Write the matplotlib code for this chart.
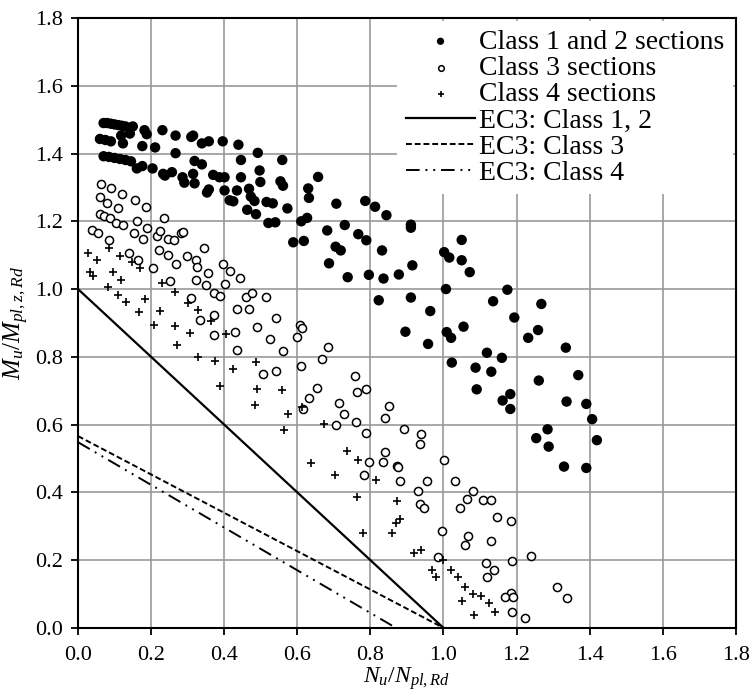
import numpy as np
import matplotlib
matplotlib.use('Agg')
import matplotlib.pyplot as plt

# Class 1 and 2 sections (filled)
c12_x = [0.070, 0.080, 0.090, 0.100, 0.110, 0.120, 0.130, 0.150, 0.182, 0.188,
         0.231, 0.267, 0.310, 0.315, 0.339, 0.358, 0.396, 0.439, 0.492, 0.559,
         0.060, 0.075, 0.090, 0.118, 0.123, 0.142, 0.176, 0.211, 0.267,
         0.070, 0.085, 0.100, 0.115, 0.130, 0.145, 0.161, 0.176, 0.204, 0.233,
         0.238, 0.257, 0.286, 0.291, 0.315, 0.319, 0.319, 0.339,
         0.353, 0.358, 0.370, 0.387, 0.401, 0.401, 0.415, 0.425, 0.435, 0.446,
         0.446, 0.468, 0.473, 0.483, 0.463, 0.487, 0.497, 0.499,
         0.516, 0.533, 0.521, 0.540, 0.554, 0.561, 0.573,
         0.589, 0.618, 0.611, 0.627, 0.630, 0.632, 0.657, 0.707, 0.682, 0.730,
         0.687, 0.705, 0.719, 0.738, 0.767, 0.789, 0.786, 0.813, 0.844, 0.832,
         0.796, 0.836, 0.878, 0.915, 0.911, 0.911,
         0.823, 0.911, 0.964, 1.007, 1.002, 1.016, 1.050, 1.050, 1.072, 1.136,
         1.175, 1.268, 1.194, 1.232, 1.259, 1.335, 1.119, 1.160, 1.088, 1.131,
         1.091, 1.261, 1.369, 1.162, 1.183, 1.183, 1.337, 1.391, 1.407, 1.285,
         1.254, 1.288, 1.420, 1.330, 1.391,
         0.896, 0.958, 1.009, 1.021, 1.055, 1.023]
c12_y = [1.490, 1.490, 1.488, 1.486, 1.484, 1.482, 1.480, 1.480, 1.469, 1.457,
         1.469, 1.453, 1.449, 1.453, 1.430, 1.436, 1.436, 1.426, 1.402, 1.381,
         1.443, 1.440, 1.436, 1.453, 1.430, 1.459, 1.422, 1.418, 1.401,
         1.392, 1.390, 1.387, 1.384, 1.381, 1.377, 1.356, 1.363, 1.356, 1.340,
         1.335, 1.345, 1.330, 1.314, 1.340, 1.312, 1.378, 1.368,
         1.285, 1.294, 1.337, 1.330, 1.330, 1.291, 1.262, 1.259, 1.291, 1.330,
         1.381, 1.296, 1.273, 1.260, 1.234, 1.221, 1.350, 1.316,
         1.257, 1.253, 1.195, 1.197, 1.318, 1.305, 1.238,
         1.138, 1.142, 1.200, 1.210, 1.297, 1.269, 1.331, 1.252, 1.173, 1.189,
         1.076, 1.125, 1.114, 1.035, 1.162, 1.144, 1.260, 1.243, 1.218, 1.114,
         1.042, 1.031, 1.043, 1.070, 1.190, 1.181,
         0.967, 0.975, 0.935, 1.000, 1.109, 1.093, 1.145, 1.085, 1.050, 0.964,
         0.998, 0.956, 0.916, 0.856, 0.879, 0.827, 0.812, 0.797, 0.768, 0.756,
         0.704, 0.730, 0.746, 0.671, 0.690, 0.646, 0.668, 0.661, 0.616, 0.586,
         0.560, 0.535, 0.554, 0.476, 0.472,
         0.874, 0.838, 0.873, 0.856, 0.889, 0.783]

# Class 3 sections (open)
c3_x = [0.062, 0.089, 0.120, 0.059, 0.080, 0.156, 0.110, 0.185,
        0.059, 0.072, 0.087, 0.104, 0.123, 0.161, 0.236,
        0.038, 0.056, 0.084, 0.153, 0.178, 0.188, 0.216, 0.225, 0.247, 0.262,
        0.281, 0.288, 0.345,
        0.140, 0.164, 0.204, 0.222, 0.246, 0.269, 0.297, 0.324, 0.326, 0.355,
        0.396, 0.415, 0.444, 0.252, 0.322, 0.351, 0.401, 0.372, 0.389, 0.310,
        0.461, 0.475, 0.514, 0.435, 0.468,
        0.334, 0.372, 0.372, 0.430, 0.435, 0.490, 0.526, 0.542, 0.561, 0.506,
        0.542,
        0.607, 0.612, 0.599, 0.685, 0.669, 0.611, 0.757, 0.764, 0.788, 0.654,
        0.631, 0.616, 0.713, 0.727, 0.851, 0.840, 0.760, 0.707, 0.788, 0.892,
        0.940, 0.937, 0.839, 0.835, 0.796, 0.872, 0.875, 0.784, 0.880, 0.955,
        1.002, 1.032, 0.930, 1.082, 1.064, 1.108, 1.130,
        1.146, 1.186, 1.130, 1.117, 1.138, 1.119, 1.189, 1.241, 1.310, 1.337,
        1.186, 1.168, 1.190, 1.189, 1.224,
        0.935, 0.948, 0.995, 1.045, 1.060, 1.068, 0.985]
c3_y = [1.311, 1.299, 1.281, 1.273, 1.255, 1.263, 1.240, 1.242,
        1.221, 1.216, 1.211, 1.195, 1.188, 1.200, 1.211,
        1.173, 1.164, 1.146, 1.164, 1.149, 1.180, 1.156, 1.172, 1.149, 1.146,
        1.164, 1.167, 1.121,
        1.105, 1.085, 1.061, 1.115, 1.100, 1.074, 1.097, 1.085, 1.066, 1.048,
        1.074, 1.054, 1.032, 1.025, 1.027, 1.012, 1.014, 0.989, 0.980, 0.975,
        0.978, 0.989, 0.976, 0.942, 0.942,
        0.909, 0.923, 0.863, 0.874, 0.820, 0.887, 0.854, 0.916, 0.818, 0.749,
        0.757,
        0.895, 0.886, 0.859, 0.828, 0.793, 0.773, 0.742, 0.695, 0.706, 0.708,
        0.678, 0.647, 0.663, 0.631, 0.656, 0.618, 0.608, 0.598, 0.576, 0.587,
        0.571, 0.543, 0.519, 0.489, 0.489, 0.479, 0.475, 0.450, 0.432, 0.434,
        0.494, 0.434, 0.404, 0.404, 0.380, 0.378, 0.378,
        0.327, 0.315, 0.256, 0.190, 0.170, 0.150, 0.196, 0.211, 0.120, 0.087,
        0.102, 0.090, 0.090, 0.048, 0.030,
        0.365, 0.355, 0.285, 0.355, 0.245, 0.270, 0.210]

# Class 4 sections (plus)
c4_x = [0.027, 0.053, 0.084, 0.116, 0.149, 0.171, 0.032, 0.041, 0.096, 0.118,
        0.082, 0.230, 0.265, 0.110, 0.132, 0.182, 0.300,
        0.168, 0.224, 0.329, 0.363, 0.207, 0.265, 0.307, 0.404, 0.271, 0.329,
        0.374, 0.425, 0.487, 0.389, 0.490, 0.559, 0.485, 0.564,
        0.575, 0.612, 0.673, 0.735, 0.767, 0.637, 0.703, 0.815, 0.764, 0.872,
        0.780, 0.860, 0.870, 0.880, 0.920, 0.940, 0.970, 0.980, 1.000, 1.020,
        1.040, 1.050, 1.060, 1.080,
        1.103, 1.124, 1.141, 1.083]
c4_y = [1.105, 1.085, 1.120, 1.097, 1.079, 1.061, 1.049, 1.038, 1.051, 1.027,
        1.006, 1.018, 0.991, 0.983, 0.963, 0.971, 0.958,
        0.933, 0.936, 0.938, 0.907, 0.895, 0.890, 0.869, 0.867, 0.835, 0.799,
        0.788, 0.765, 0.785, 0.714, 0.706, 0.701, 0.657, 0.584,
        0.632, 0.651, 0.602, 0.523, 0.494, 0.486, 0.451, 0.437, 0.385, 0.375,
        0.280, 0.280, 0.310, 0.320, 0.220, 0.230, 0.170, 0.150, 0.200, 0.170,
        0.150, 0.080, 0.120, 0.100,
        0.093, 0.072, 0.048, 0.037]

# EC3 interaction lines
ec3_12_x = [0.0, 1.0]
ec3_12_y = [1.0, 0.0]
ec3_3_x = [0.0, 1.0]
ec3_3_y = [0.566, 0.0]
ec3_4_x = [0.0, 0.87]
ec3_4_y = [0.548, 0.0]

plt.rcParams['font.family'] = ['Liberation Serif', 'DejaVu Serif']
plt.rcParams['mathtext.fontset'] = 'custom'
plt.rcParams['mathtext.rm'] = 'Liberation Serif'
plt.rcParams['mathtext.it'] = 'Liberation Serif:italic'

fig = plt.figure(figsize=(7.5, 6.93), dpi=100)
ax = fig.add_axes([0.104, 0.094, 0.877, 0.880])

ax.scatter(c12_x, c12_y, s=56, c='black', edgecolors='none', label='Class 1 and 2 sections', zorder=3)
ax.scatter(c3_x, c3_y, s=34, facecolors='white', edgecolors='black', linewidths=1.1,
           label='Class 3 sections', zorder=3)
ax.scatter(c4_x, c4_y, s=38, marker='+', c='black', linewidths=1.2, label='Class 4 sections', zorder=3)
ax.plot(ec3_12_x, ec3_12_y, color='black', lw=1.6, label='EC3: Class 1, 2')
ax.plot(ec3_3_x, ec3_3_y, color='black', lw=1.4, linestyle=(0, (3, 1.5)), label='EC3: Class 3')
ax.plot(ec3_4_x, ec3_4_y, color='black', lw=1.4, linestyle=(0, (7, 3, 1, 3, 1, 3)), label='EC3: Class 4')

ticks = np.arange(0, 1.81, 0.2)
ax.set_xlim(0, 1.8)
ax.set_ylim(0, 1.8)
ax.set_xticks(ticks)
ax.set_yticks(ticks)
ax.set_xticklabels(['%.1f' % v for v in ticks])
ax.set_yticklabels(['%.1f' % v for v in ticks])
ax.grid(True, color='#999999', lw=1.2)
ax.set_axisbelow(True)
for sp in ax.spines.values():
    sp.set_linewidth(1.5)
ax.tick_params(direction='out', length=5, width=1.3, pad=6, labelsize=16)
ax.tick_params(axis='x', pad=8)

ax.set_xlabel(r'$N_u/N_{pl,Rd}$', fontsize=17, labelpad=0)
ax.set_ylabel(r'$M_u/M_{pl,z,Rd}$', fontsize=18, labelpad=3)

leg = ax.legend(loc='upper right', bbox_to_anchor=(1, 1), borderaxespad=0.1, fontsize=20,
                frameon=True, fancybox=False, framealpha=1, edgecolor='none',
                handlelength=2.5, handletextpad=0.15, labelspacing=0.03, markerscale=0.7,
                borderpad=0.3)

fig.savefig('out.png', dpi=100)
